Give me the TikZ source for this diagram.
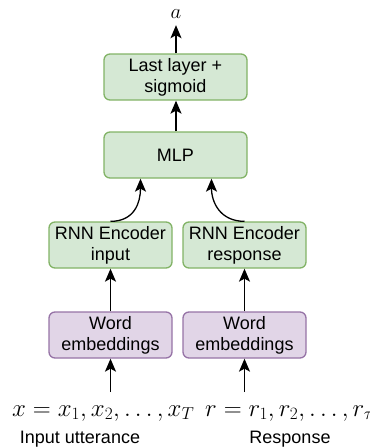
\documentclass[tikz,border=0pt]{standalone}
\usepackage[no-math]{fontspec}
\setmainfont{Liberation Sans}
\usetikzlibrary{arrows.meta}
\definecolor{grnfill}{HTML}{D5E8D4}
\definecolor{grnline}{HTML}{82B366}
\definecolor{purfill}{HTML}{E1D5E7}
\definecolor{purline}{HTML}{9673A6}
\begin{document}
\begin{tikzpicture}[x=1pt,y=-1pt,
  block/.style={line width=1.3pt, rounded corners=6pt, minimum height=46pt,
    align=center, inner sep=0pt, font=\fontsize{18}{21}\selectfont},
  greenbox/.style={block, draw=grnline, fill=grnfill},
  purplebox/.style={block, draw=purline, fill=purfill},
  arr/.style={line width=1.3pt, -{Stealth[length=13pt,width=11pt,inset=3pt]}},
  mathtxt/.style={inner sep=0pt, font=\fontsize{24}{29}\selectfont},
  labeltxt/.style={inner sep=0pt, font=\fontsize{18}{21}\selectfont}
]
\useasboundingbox (0,0) rectangle (370,448);

% top output and upper blocks
\node[mathtxt, anchor=base, font=\fontsize{22}{26}\selectfont] (a) at (176,18) {$a$};
\node[greenbox, minimum width=143pt] (last) at (175.5,77) {Last layer +\\sigmoid};
\node[greenbox, minimum width=143pt] (mlp) at (175.5,155) {MLP};

% encoders
\node[greenbox, minimum width=123pt] (rnnI) at (110.5,245) {RNN Encoder\\input};
\node[greenbox, minimum width=123pt] (rnnR) at (244.5,245) {RNN Encoder\\response};

% embeddings
\node[purplebox, minimum width=123pt] (embI) at (110.5,335) {Word\\embeddings};
\node[purplebox, minimum width=123pt] (embR) at (244.5,335) {Word\\embeddings};

% input sequences and captions
\node[mathtxt, anchor=base west] (xin) at (12,416) {$x = x_1, x_2, \ldots, x_T$};
\node[mathtxt, anchor=base west, font=\fontsize{23}{28}\selectfont] (rin) at (205,416) {$r = r_1, r_2, \ldots, r_\tau$};
\node[labeltxt, anchor=base] (lin) at (80,443) {Input utterance};
\node[labeltxt, anchor=base] (lrs) at (290,443) {Response};

\coordinate (xs) at (110.5,392);
\coordinate (rs) at (244.5,392);

% connectors
\draw[arr] (xs) -- (embI.south);
\draw[arr] (rs) -- (embR.south);
\draw[arr] (embI) -- (rnnI);
\draw[arr] (embR) -- (rnnR);
\draw[arr] (rnnI.north) .. controls +(24,0) and +(0,24) .. ([xshift=-35pt]mlp.south);
\draw[arr] (rnnR.north) .. controls +(-24,0) and +(0,24) .. ([xshift=36pt]mlp.south);
\draw[arr] ([xshift=0.5pt]mlp.north) -- ([xshift=0.5pt]last.south);
\draw[arr, shorten >=7pt] ([xshift=0.5pt]last.north) -- (a.south);
\end{tikzpicture}
\end{document}
